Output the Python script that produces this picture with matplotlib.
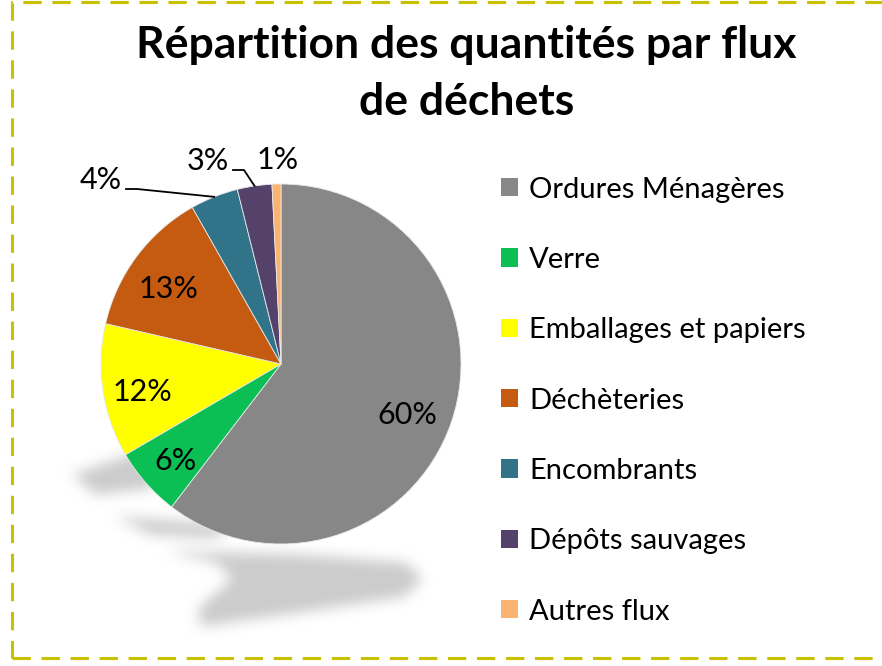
import numpy as np
import matplotlib
matplotlib.use("Agg")
import matplotlib.pyplot as plt
from matplotlib.patches import Rectangle, Patch
from matplotlib.path import Path

plt.rcParams['font.family'] = ['Lato', 'DejaVu Sans']

# données
categories = ["Ordures Ménagères", "Verre", "Emballages et papiers", "Déchèteries",
              "Encombrants", "Dépôts sauvages", "Autres flux"]
values = [60.4, 6.2, 12.0, 13.2, 4.3, 3.1, 0.8]
colors = ["#878787", "#0BBF55", "#FFFF00", "#C55A11", "#31748A", "#54426A", "#FAB370"]
title = "Répartition des quantités par flux\nde déchets"

W, H = 882, 666
fig = plt.figure(figsize=(W / 100, H / 100), dpi=100)
ax = fig.add_axes([0, 0, 1, 1])
ax.set_xlim(0, W)
ax.set_ylim(0, H)
ax.axis("off")

# ombre floue sous le camembert (décor)
yy, xx = np.mgrid[0:H, 0:W]
pts = np.column_stack([xx.ravel(), (H - yy).ravel()])
shadow = np.zeros(H * W)
blobs = [
    [(72, 192), (130, 212), (165, 208), (150, 178), (95, 172)],
    [(115, 150), (200, 144), (230, 140), (215, 128), (150, 132)],
    [(163, 116), (300, 112), (405, 104), (422, 88), (405, 70), (300, 54),
     (200, 40), (198, 58), (232, 88), (215, 104)],
]
for poly in blobs:
    shadow = np.maximum(shadow, Path(poly).contains_points(pts))
shadow = shadow.reshape(H, W)
k = np.ones(15) / 15
for _ in range(2):
    shadow = np.apply_along_axis(lambda r: np.convolve(r, k, mode="same"), 1, shadow)
    shadow = np.apply_along_axis(lambda c: np.convolve(c, k, mode="same"), 0, shadow)
rgba = np.zeros((H, W, 4))
rgba[..., :3] = 0.80
rgba[..., 3] = shadow
ax.imshow(rgba, extent=(0, W, 0, H), origin="upper", zorder=0)

center = (281, 302)
radius = 180
wedges, texts, autotexts = ax.pie(
    values, colors=colors, startangle=90, counterclock=False,
    center=center, radius=radius, autopct="%1.0f%%", pctdistance=0.76,
    wedgeprops=dict(edgecolor="#E8E8E8", linewidth=0.6),
    textprops=dict(fontsize=22, color="black"), frame=False)
ax.set_xlim(0, W)
ax.set_ylim(0, H)
ax.set_aspect("equal")

# léger décalage vers le bas des étiquettes intérieures
for t in autotexts[:4]:
    x, y = t.get_position()
    t.set_position((x - 3, y - 7))

# étiquettes extérieures pour les petites parts
outside = {4: (101, 486), 5: (208, 505), 6: (278, 506)}
for i, (lx, ly) in outside.items():
    w = wedges[i]
    th = np.deg2rad((w.theta1 + w.theta2) / 2)
    ex = center[0] + radius * np.cos(th)
    ey = center[1] + radius * np.sin(th)
    autotexts[i].set_position((lx, ly))
    if i != 6:
        ax.plot([lx + 25, lx + 36, ex], [ly - 9, ly - 9, ey], color="black", lw=1.3)

fig.text(0.529, 0.962, title, ha="center", va="top", fontsize=32,
         fontweight="bold", linespacing=1.5)

handles = [Patch(facecolor=c, edgecolor="none") for c in colors]
fig.legend(handles, categories, loc="upper left", bbox_to_anchor=(0.5552, 0.7525),
           frameon=False, fontsize=21, handlelength=0.58, handleheight=0.58,
           handletextpad=0.38, labelspacing=1.52, borderaxespad=0)

fig.patches.append(Rectangle((11.5, 8), W, H - 10, transform=None, fill=False,
                             edgecolor="#C8C000", linewidth=2.2,
                             linestyle=(0, (6, 3.5)), figure=fig))

fig.savefig("out.png", dpi=100)
